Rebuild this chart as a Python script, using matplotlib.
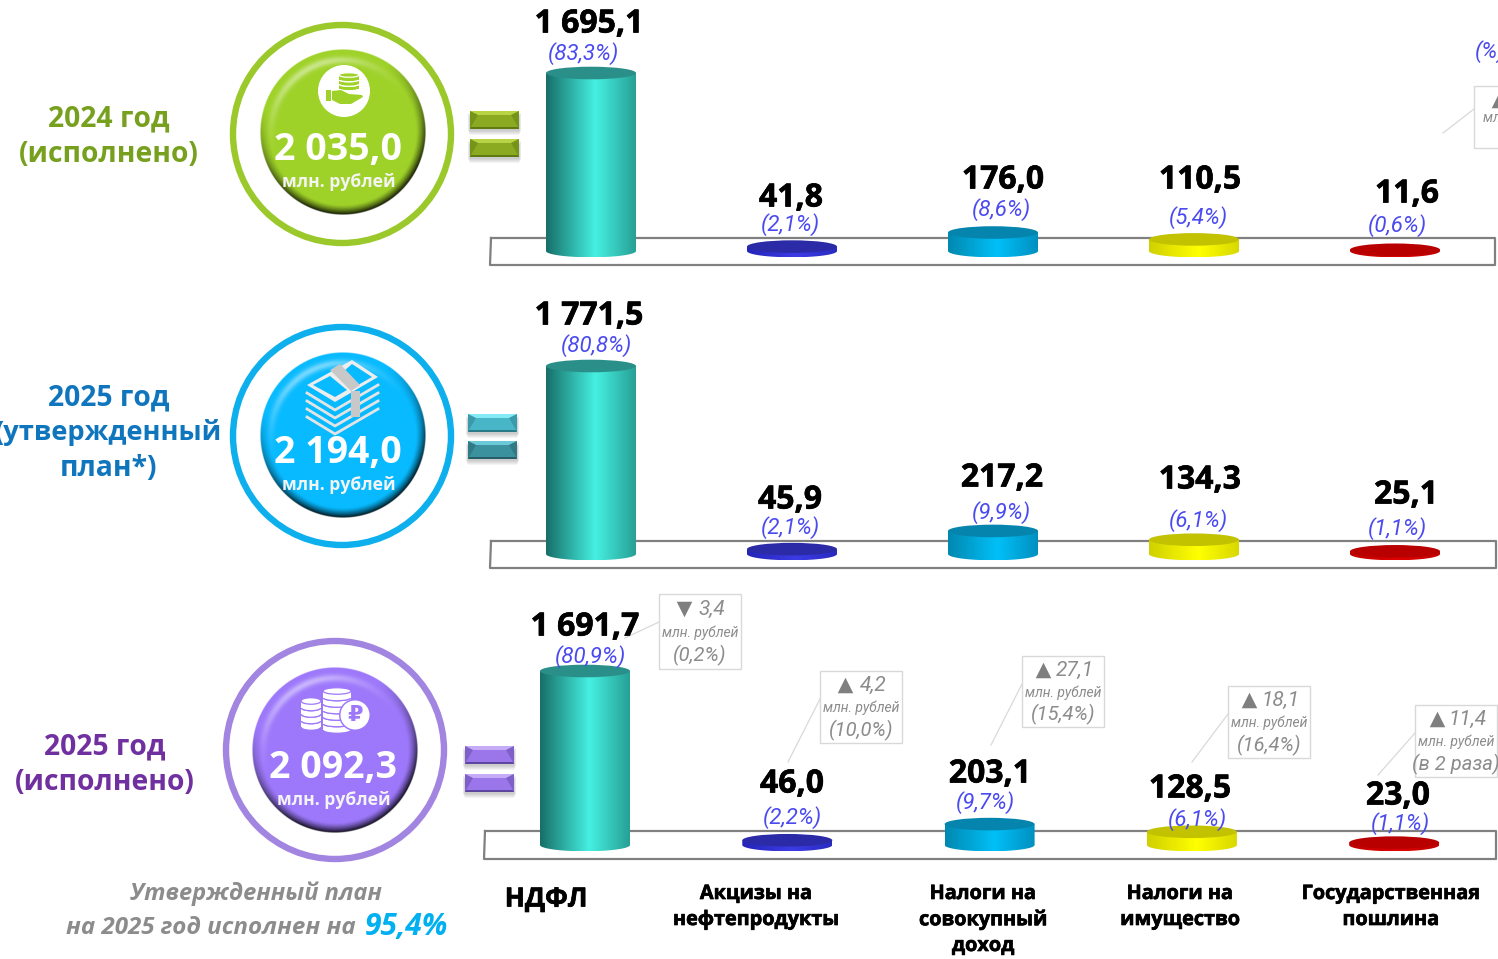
import matplotlib
matplotlib.use("Agg")
import matplotlib.pyplot as plt
import matplotlib.patheffects as pe
import numpy as np
from matplotlib.patches import Circle, Ellipse, PathPatch, Polygon, Rectangle
from matplotlib.path import Path
from matplotlib.colors import to_rgb

# === Data ===
categories = ["НДФЛ", "Акцизы на\nнефтепродукты", "Налоги на\nсовокупный\nдоход",
              "Налоги на\nимущество", "Государственная\nпошлина"]
values_2024 = [1695.1, 41.8, 176.0, 110.5, 11.6]
values_plan = [1771.5, 45.9, 217.2, 134.3, 25.1]
values_fact = [1691.7, 46.0, 203.1, 128.5, 23.0]
share_2024 = ["(83,3%)", "(2,1%)", "(8,6%)", "(5,4%)", "(0,6%)"]
share_plan = ["(80,8%)", "(2,1%)", "(9,9%)", "(6,1%)", "(1,1%)"]
share_fact = ["(80,9%)", "(2,2%)", "(9,7%)", "(6,1%)", "(1,1%)"]
totals = ["2 035,0", "2 194,0", "2 092,3"]
row_titles = ["2024 год\n(исполнено)", "2025 год\n(утвержденный\nплан*)", "2025 год\n(исполнено)"]
delta_up = [False, True, True, True, True]
delta_abs = ["3,4", "4,2", "27,1", "18,1", "11,4"]
delta_rel = ["(0,2%)", "(10,0%)", "(15,4%)", "(16,4%)", "(в 2 раза)"]

# === Layout, in pixels of the picture ===
W, H = 1498, 959
baseline = [251, 554, 845]
top_px = [73, 366, 671]
first_x = [591, 591, 585]
step_x = [201, 201, 202.3]
value_xy = [[(589, 24), (791, 198), (1003, 180), (1200, 180), (1407, 194)],
            [(589, 316), (790, 500), (1002, 478), (1200, 480), (1406, 495)],
            [(585, 627), (792, 784), (990, 774), (1190, 789), (1398, 796)]]
share_xy = [[(583, 54), (790, 225), (1001, 210), (1198, 218), (1397, 226)],
            [(596, 346), (790, 528), (1001, 513), (1198, 521), (1397, 529)],
            [(590, 657), (792, 818), (985, 803), (1197, 820), (1400, 824)]]
frame_xy = [(490, 238, 1495, 265), (490, 541, 1496, 568), (484, 831, 1496, 859)]
ring_xy = [(342, 134), (342, 436), (335, 750)]
button_xy = [(343, 132), (343, 435), (335, 750)]
equal_xy = [(470, 111, 139), (468, 414, 441), (465, 746, 774)]
delta_box = [(659, 594), (820, 671), (1022, 656), (1228, 686), (1415, 705)]
delta_h = [75, 72, 71, 72, 72]
delta_tri = [25, 25, 21, 21, 22]
leader_from = [(625, 638), (788, 762), (991, 745), (1192, 762), (1378, 775)]
title_x = [109, 109, 105]
title_y = [119, 398, 747]

# === Styles ===
ITALIC = "Roboto"
BOLD = "Open Sans"
HEAVY = [pe.withStroke(linewidth=0.5, foreground="black")]
ring_colors = ["#9BC92B", "#0DB0EC", "#A285E0"]
button_colors = ["#9FD229", "#08BAFF", "#9D78FB"]
title_colors = ["#76A01E", "#0F75BD", "#7030A0"]
side_colors = [("#176F68", "#45F0E2", "#27A096"), ("#2424B8", "#3C3CE6", "#2A2AC0"),
               ("#0088B0", "#00C0F8", "#0090C0"), ("#D0D000", "#FFFF00", "#D8D800"),
               ("#C00000", "#E00000", "#C00000")]
cap_colors = ["#2A8F88", "#2B2BA8", "#0585AE", "#C2C200", "#B80000"]
equal_colors = [[("#8BAA22", "#B8D444", "#5E7A10"), ("#8BAA22", "#B8D444", "#5E7A10")],
                [("#48B6C6", "#84EAF6", "#2B7A88"), ("#3B919E", "#6CCAD8", "#245F6A")],
                [("#9A76EA", "#C6ABF6", "#5D46A0"), ("#9A76EA", "#C6ABF6", "#5D46A0")]]
BAR_W = 45
CAP_H = 6.3


def fmt(v):
    return f"{v:,.1f}".replace(",", " ").replace(".", ",")


def button_image(color, n=340):
    # shaded glass button: dark rim at the bottom, soft highlight at upper left
    y, x = np.mgrid[-1:1:n * 1j, -1:1:n * 1j]
    r = np.hypot(x, y) + 1e-6
    base = np.array(to_rgb(color))
    img = np.ones((n, n, 4))
    img[..., :3] = base
    edge = np.clip((r - 0.88) / 0.12, 0, 1) ** 1.3
    down = np.clip(0.45 + 0.75 * (0.35 * x + 0.94 * y) / r, 0, 1)
    dark = (edge * down)[..., None]
    img[..., :3] = img[..., :3] * (1 - 0.92 * dark)
    glow = np.exp(-((r - 0.87) / 0.045) ** 2) * np.clip(-(0.45 * x + 0.89 * y) / r, 0, 1) ** 2
    img[..., :3] += (1 - img[..., :3]) * 0.45 * glow[..., None]
    img[..., 3] = np.clip((1 - r) * n / 2, 0, 1)
    return img


def draw_cylinder(ax, x, v, side, cap, cap_data, half_w):
    th = np.linspace(np.pi, 2 * np.pi, 60)
    xs = x + half_w * np.cos(th)
    ys = cap_data * np.sin(th)
    verts = list(zip(xs, ys)) + [(x + half_w, v), (x - half_w, v), (x - half_w, 0)]
    clip = PathPatch(Path(verts), fc="none", ec="none", transform=ax.transData)
    ax.add_patch(clip)
    t = np.array([0, 0.55, 1])
    grad = np.linspace(0, 1, 200)
    cols = np.array([to_rgb(c) for c in side])
    strip = np.stack([np.interp(grad, t, cols[:, k]) for k in range(3)], axis=-1)[None, :, :]
    im = ax.imshow(strip, extent=(x - half_w, x + half_w, -cap_data, v), aspect="auto", zorder=2)
    im.set_clip_path(clip)
    ax.add_patch(Ellipse((x, v), 2 * half_w, 2 * cap_data, fc=cap, ec="none", zorder=3))


def draw_equal_bar(ax, x, y, cols, w=49, h=18):
    mid, light, dark = cols
    for i in range(5):
        ax.add_patch(Rectangle((x - 2 + i * 0.4, y + 2 + i), w + 4 - i * 0.8, h, fc="#444444", ec="none", alpha=0.06, zorder=2))
    b = 4
    ax.add_patch(Rectangle((x, y), w, h, fc=mid, ec="none", zorder=3))
    ax.add_patch(Polygon([(x, y), (x + w, y), (x + w - b * 2, y + b), (x + b * 2, y + b)], fc=light, ec="none", zorder=4))
    ax.add_patch(Polygon([(x, y + h), (x + w, y + h), (x + w - 1, y + h - 2), (x + 1, y + h - 2)], fc=dark, ec="none", zorder=4))
    ax.add_patch(Polygon([(x, y), (x + b * 2, y + b), (x + 1, y + h - 2), (x, y + h)], fc=dark, ec="none", alpha=0.45, zorder=4))
    ax.add_patch(Polygon([(x + w, y), (x + w - b * 2, y + b), (x + w - 1, y + h - 2), (x + w, y + h)], fc=dark, ec="none", alpha=0.45, zorder=4))


def coin_stack(ax, cx, top, half_w, n, h, fill, gap):
    for i in range(n - 1, -1, -1):
        yc = top + i * h
        ax.add_patch(Ellipse((cx, yc + h), 2 * half_w, h, fc=fill, ec=gap, lw=0.9, zorder=6))
        ax.add_patch(Rectangle((cx - half_w, yc), 2 * half_w, h, fc=fill, ec="none", zorder=6))
        ax.add_patch(Ellipse((cx, yc), 2 * half_w, h, fc=fill, ec=gap, lw=0.9, zorder=6))


def icon_hand(ax):
    c = button_colors[0]
    ax.add_patch(Circle((344, 91), 26, fc="white", ec="none", zorder=5))
    coin_stack(ax, 349, 75, 10, 3, 4.5, c, "white")
    ax.add_patch(Rectangle((326, 90), 5, 11, fc=c, ec="none", zorder=6))
    ax.add_patch(Polygon([(332, 91), (341, 90), (349, 94), (362, 95), (363, 97), (351, 104), (340, 104), (332, 100)],
                         fc=c, ec="none", zorder=6))


def icon_money(ax):
    c = button_colors[1]
    for dy in [32, 24, 16, 8]:
        ax.plot([307, 335, 378], [385 + dy, 402 + dy, 377 + dy], color="#E4E4E4", lw=2.0, zorder=5)
    ax.add_patch(Polygon([(307, 385), (352, 360), (378, 377), (335, 402)], fc="#EDEDED", ec="none", zorder=6))
    ax.add_patch(Polygon([(313, 385), (330, 376), (347, 390), (335, 397)], fc=c, ec="none", zorder=7))
    ax.add_patch(Polygon([(344, 371), (352, 364), (372, 377), (358, 385)], fc=c, ec="none", zorder=7))
    ax.add_patch(Polygon([(330, 370), (340, 364), (360, 385), (351, 391)], fc="#C8C8C8", ec="none", zorder=7))
    ax.add_patch(Rectangle((351, 391), 9, 26, fc="#C8C8C8", ec="none", zorder=7))


def icon_coins(ax):
    c = button_colors[2]
    coin_stack(ax, 311, 701, 10, 4, 6.5, "white", c)
    coin_stack(ax, 337, 691, 14, 6, 6.5, "white", c)
    ax.add_patch(Circle((355, 715), 16, fc=c, ec="none", zorder=7))
    ax.add_patch(Circle((355, 715), 14.5, fc="white", ec="none", zorder=8))
    ax.text(355, 715, "₽", color=c, fontsize=16, fontweight="bold", ha="center", va="center",
            family="DejaVu Sans", zorder=9)


# === Figure ===
fig = plt.figure(figsize=(W / 100, H / 100), dpi=100)

back = fig.add_axes([0, 0, 1, 1], zorder=0)
back.set_xlim(0, W)
back.set_ylim(H, 0)
back.axis("off")

for i, (x0, y0, x1, y1) in enumerate(frame_xy):
    back.plot([x0 + 1, x1, x1, x0, x0 + 1], [y0, y0, y1, y1, y0], color="#808080", lw=1.6, zorder=1)

for i in range(3):
    rx, ry = ring_xy[i]
    bx, by = button_xy[i]
    back.add_patch(Circle((rx, ry), 109, fc="none", ec=ring_colors[i], lw=4.6, zorder=2))
    rad = 83
    back.imshow(button_image(button_colors[i]), extent=(bx - rad, bx + rad, by + rad, by - rad),
                zorder=3, interpolation="bilinear", aspect="auto")
    ex, ey0, ey1 = equal_xy[i]
    draw_equal_bar(back, ex, ey0, equal_colors[i][0])
    draw_equal_bar(back, ex, ey1, equal_colors[i][1])
back.set_xlim(0, W)
back.set_ylim(H, 0)

icon_hand(back)
icon_money(back)
icon_coins(back)

# === Bars: one axes per row, x is the category, y is the value ===
rows = [values_2024, values_plan, values_fact]
AX_TOP = [40, 340, 640]
AX_BOTTOM = [275, 578, 868]
for i, vals in enumerate(rows):
    ax_left, ax_right = 480, W
    ax = fig.add_axes([ax_left / W, 1 - AX_BOTTOM[i] / H, (ax_right - ax_left) / W, (AX_BOTTOM[i] - AX_TOP[i]) / H],
                      zorder=1)
    ax.patch.set_alpha(0)
    ax.axis("off")
    scale = (baseline[i] - top_px[i]) / vals[0]
    half_w = BAR_W / step_x[i]
    cap_data = CAP_H / scale
    for k, v in enumerate(vals):
        draw_cylinder(ax, k, v, side_colors[k], cap_colors[k], cap_data, half_w)
    ax.set_xlim((ax_left - first_x[i]) / step_x[i], (ax_right - first_x[i]) / step_x[i])
    ax.set_ylim((baseline[i] - AX_BOTTOM[i]) / scale, (baseline[i] - AX_TOP[i]) / scale)

# === Texts ===
front = fig.add_axes([0, 0, 1, 1], zorder=2)
front.patch.set_alpha(0)
front.set_xlim(0, W)
front.set_ylim(H, 0)
front.axis("off")

shares = [share_2024, share_plan, share_fact]
for i, vals in enumerate(rows):
    for k, v in enumerate(vals):
        x, y = value_xy[i][k]
        front.text(x, y, fmt(v), fontsize=23, fontweight="bold", family=BOLD, color="black", ha="center", va="center",
                   path_effects=HEAVY)
        x, y = share_xy[i][k]
        front.text(x, y, shares[i][k], fontsize=16, style="italic", family=ITALIC, color="#4A4AF0", ha="center", va="center")

for i, t in enumerate(row_titles):
    for j, line in enumerate(t.split("\n")):
        size = 19.6 if len(line) > 12 else 20.3
        front.text(title_x[i], title_y[i] + j * 35, line, fontsize=size, fontweight="bold", family=BOLD,
                   color=title_colors[i], ha="center", va="center")
    bx, by = button_xy[i]
    front.text(bx - 5 + (3 if i == 2 else 0), by + 18, totals[i], fontsize=27, fontweight="bold", family=BOLD, color="white",
               ha="center", va="center")
    front.text(bx - 4 + (3 if i == 2 else 0), by + 50, "млн. рублей", fontsize=12.6, fontweight="bold", family=BOLD, color="#F4F4F4",
               ha="center", va="center")

# === Change boxes, last row ===
for k, (bx, by) in enumerate(delta_box):
    h = delta_h[k]
    front.plot([leader_from[k][0], bx], [leader_from[k][1], by + 28], color="#D9D9D9", lw=0.9)
    front.add_patch(Rectangle((bx, by), 82, h, fc="white", ec="#D9D9D9", lw=1.0, zorder=2))
    up = delta_up[k]
    front.scatter([bx + delta_tri[k]], [by + 0.2 * h], marker="^" if up else "v", s=125, color="#7F7F7F", linewidths=0, zorder=3)
    front.text(bx + 53, by + 0.2 * h, delta_abs[k], fontsize=15, style="italic", family=ITALIC, color="#8C8C8C",
               ha="center", va="center", zorder=3)
    front.text(bx + 41, by + 0.515 * h, "млн. рублей", fontsize=10, style="italic", family=ITALIC, color="#8C8C8C",
               ha="center", va="center", zorder=3)
    front.text(bx + 41, by + 0.82 * h, delta_rel[k], fontsize=14.5, style="italic", family=ITALIC, color="#8C8C8C",
               ha="center", va="center", zorder=3)

# clipped box and labels at the right edge, first row
front.plot([1443, 1474], [133, 109], color="#D9D9D9", lw=0.9)
front.add_patch(Rectangle((1474, 86), 40, 62, fc="white", ec="#D9D9D9", lw=1.0, zorder=2, clip_on=True))
front.scatter([1499], [100], marker="^", s=125, color="#7F7F7F", linewidths=0, zorder=3)
front.text(1483, 118, "млн. рублей", fontsize=10, style="italic", family=ITALIC, color="#8C8C8C", ha="left", va="center", zorder=3)
front.text(1475, 52, "(%)", fontsize=16, style="italic", family=ITALIC, color="#4A4AF0", ha="left", va="center", zorder=3)

# === Category labels and note ===
front.text(546, 899, categories[0], fontsize=19, fontweight="bold", family=BOLD, color="black", ha="center", va="center",
           path_effects=HEAVY)
cat_x = [None, 756, 983, 1180, 1391]
for k in range(1, 5):
    lines = categories[k].split("\n")
    for j, line in enumerate(lines):
        front.text(cat_x[k], 894 + j * 26, line, fontsize=14.3, fontweight="bold", family=BOLD, color="black", ha="center", va="center",
                   path_effects=HEAVY)

front.text(256, 894, "Утвержденный план", fontsize=17, fontweight="bold", style="italic", family=BOLD, color="#8C8C8C", ha="center", va="center")
front.text(356, 928, "на 2025 год исполнен на", fontsize=17.4, fontweight="bold", style="italic", family=BOLD, color="#8C8C8C", ha="right", va="center")
front.text(406, 927, "95,4%", fontsize=21.5, fontweight="bold", style="italic", family=BOLD, color="#00B0F0", ha="center", va="center")

fig.savefig("out.png", dpi=100)
